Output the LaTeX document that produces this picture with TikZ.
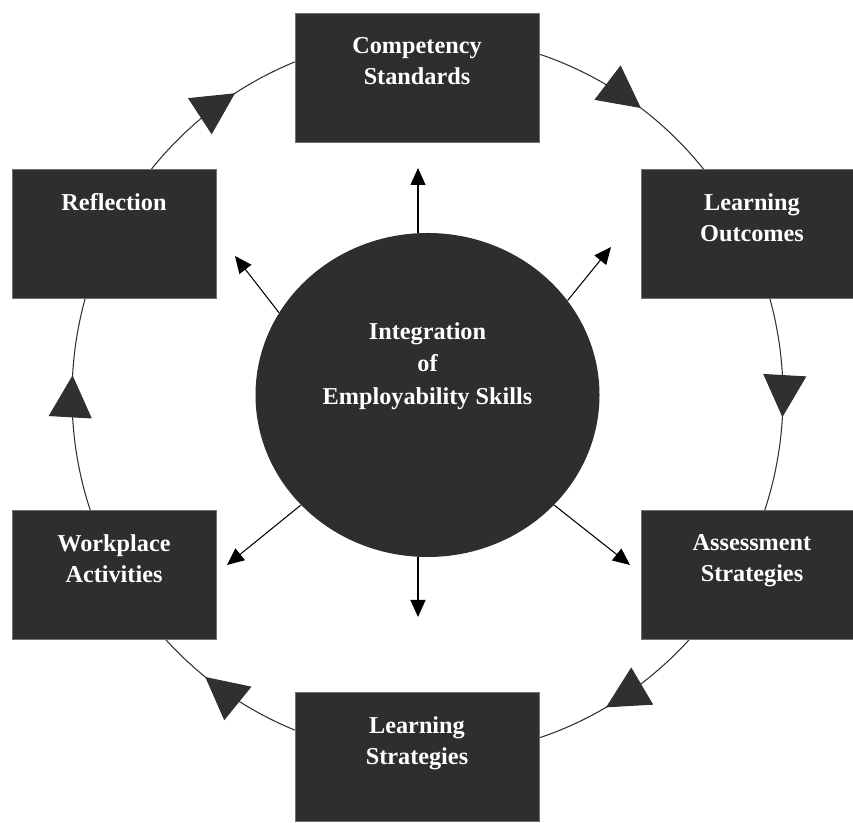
\documentclass[tikz,border=0pt]{standalone}
\usepackage{fontspec}
\setmainfont{Liberation Serif}
\usetikzlibrary{positioning,arrows.meta,shapes.geometric,decorations.markings}
\definecolor{boxgray}{HTML}{2E2E2E}
\definecolor{edgegray}{HTML}{707070}
\definecolor{linegray}{HTML}{303030}

\tikzset{
  bigtip/.tip={Triangle[length=0.84cm,width=0.86cm]},
  stage/.style={rectangle, fill=boxgray, draw=edgegray, line width=0.5pt, minimum height=2.58cm, inner sep=0pt},
  stagetxt/.style={text=white, font=\bfseries\fontsize{13.8}{17.6}\selectfont, align=center, inner sep=0pt},
  spoke/.style={-{Triangle[length=0.34cm,width=0.3cm]}, line width=0.6pt, draw=black},
  cyclemarks/.style={postaction={decorate}, decoration={markings,
    mark=at position 0.148 with {\arrowreversed{bigtip}},
    mark=at position 0.3406 with {\arrowreversed{bigtip}},
    mark=at position 0.4908 with {\arrowreversed{bigtip}},
    mark=at position 0.643 with {\arrowreversed{bigtip}},
    mark=at position 0.8333 with {\arrowreversed{bigtip}},
    mark=at position 0.9906 with {\arrowreversed{bigtip}}}}
}

\begin{document}
\begin{tikzpicture}[x=1cm,y=1cm]
\useasboundingbox (0,0) rectangle (17.06,16.46);
% outer cycle
\draw[linegray, line width=0.6pt, cyclemarks] (8.55,8.54) ellipse [x radius=7.11, y radius=7.20];

% stages
\node[stage, minimum width=4.88cm] (cs) at (8.34,14.91) {};
\node[stage, minimum width=4.44cm] (lo) at (15.04,11.79) {};
\node[stage, minimum width=4.44cm] (as) at (15.04,4.96) {};
\node[stage, minimum width=4.88cm] (ls) at (8.34,1.32) {};
\node[stage, minimum width=4.08cm] (wa) at (2.28,4.96) {};
\node[stage, minimum width=4.08cm] (rf) at (2.28,11.78) {};

\node[stagetxt, below=0.49cm of cs.north] (cs-txt) {Competency\\Standards};
\node[stagetxt, below=0.49cm of lo.north] (lo-txt) {Learning\\Outcomes};
\node[stagetxt, below=0.49cm of as.north] (as-txt) {Assessment\\Strategies};
\node[stagetxt, below=0.49cm of ls.north] (ls-txt) {Learning\\Strategies};
\node[stagetxt, below=0.49cm of wa.north] (wa-txt) {Workplace\\Activities};
\node[stagetxt, below=0.49cm of rf.north] (rf-txt) {Reflection};

% centre
\node[ellipse, fill=boxgray, minimum width=6.88cm, minimum height=6.48cm, inner sep=0pt] (ies) at (8.55,8.56) {};
\node[stagetxt, font=\bfseries\fontsize{13.8}{18.4}\selectfont] (ies-txt) at (8.55,9.14) {Integration\\of\\Employability Skills};

\coordinate (up) at (8.36,13.10);
\coordinate (ur) at (12.22,11.52);
\coordinate (dr) at (12.60,5.16);
\coordinate (dn) at (8.36,4.12);
\coordinate (dl) at (4.54,5.16);
\coordinate (ul) at (4.70,11.34);

\draw[spoke] (ies.north -| up) -- (up);
\draw[spoke] (ies.34) -- (ur);
\draw[spoke] (ies.319) -- (dr);
\draw[spoke] (ies.south -| dn) -- (dn);
\draw[spoke] (ies.221) -- (dl);
\draw[spoke] (ies.151) -- (ul);
\end{tikzpicture}
\end{document}
